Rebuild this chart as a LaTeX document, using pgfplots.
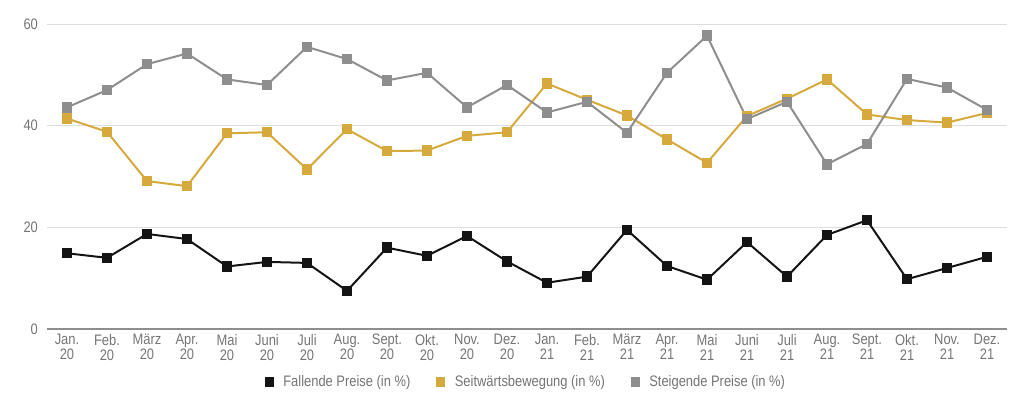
\documentclass[border=0pt]{standalone}
\usepackage{fontspec}
\setmainfont{Liberation Sans}
\newfontfamily\narrowfont{Liberation Sans}[FakeStretch=0.85]
\usepackage{pgfplots}
\pgfplotsset{compat=1.18}
\definecolor{cblack}{HTML}{141414}
\definecolor{cyellow}{HTML}{D6A93C}
\definecolor{cgray}{HTML}{8E8E8E}
\definecolor{cgrid}{HTML}{DDDDDD}
\definecolor{ctext}{HTML}{757575}
\begin{document}
\begin{tikzpicture}
\begin{axis}[
  scale only axis,
  width=480pt, height=152.5pt,
  xmin=-0.5, xmax=23.5,
  ymin=0, ymax=60,
  ytick={0,20,40,60},
  xtick={0,...,23},
  xticklabels={{Jan.\\20},{Feb.\\20},{März\\20},{Apr.\\20},{Mai\\20},{Juni\\20},{Juli\\20},{Aug.\\20},{Sept.\\20},{Okt.\\20},{Nov.\\20},{Dez.\\20},{Jan.\\21},{Feb.\\21},{März\\21},{Apr.\\21},{Mai\\21},{Juni\\21},{Juli\\21},{Aug.\\21},{Sept.\\21},{Okt.\\21},{Nov.\\21},{Dez.\\21}},
  xticklabel style={align=center, font=\narrowfont\fontsize{7.6}{7.6}\selectfont, text=ctext, yshift=1pt},
  yticklabel style={font=\narrowfont\fontsize{7.6}{8}\selectfont, text=ctext, xshift=-1pt},
  /pgf/number format/assume math mode=true,
  major tick length=0pt,
  ymajorgrids,
  grid style={cgrid, line width=0.5pt},
  axis x line*=bottom,
  axis y line*=left,
  y axis line style={draw=none},
  x axis line style={draw=cgray, line width=0.8pt},
  legend columns=3,
  legend style={draw=none, at={(0.5,-0.174)}, anchor=center, font=\narrowfont\fontsize{7.6}{8}\selectfont, text=ctext,
    /tikz/every odd column/.append style={column sep=3pt},
    /tikz/every even column/.append style={column sep=11pt}},
  legend cell align=left,
  clip=false,
]
\addplot[cblack, line width=1pt, mark=square*, mark size=2.1pt, mark options={solid}, forget plot] coordinates {
(0,14.9)(1,14.0)(2,18.7)(3,17.7)(4,12.3)(5,13.2)(6,13.0)(7,7.5)(8,16.0)(9,14.4)(10,18.3)(11,13.3)
(12,9.1)(13,10.3)(14,19.5)(15,12.4)(16,9.7)(17,17.1)(18,10.3)(19,18.5)(20,21.4)(21,9.8)(22,12.0)(23,14.2)};
\addplot[cyellow, line width=1pt, mark=square*, mark size=2.1pt, forget plot] coordinates {
(0,41.4)(1,38.8)(2,29.1)(3,28.1)(4,38.5)(5,38.7)(6,31.4)(7,39.3)(8,35.0)(9,35.1)(10,38.0)(11,38.7)
(12,48.3)(13,45.1)(14,42.0)(15,37.3)(16,32.7)(17,41.9)(18,45.3)(19,49.1)(20,42.2)(21,41.1)(22,40.6)(23,42.5)};
\addplot[cgray, line width=1pt, mark=square*, mark size=2.1pt, forget plot] coordinates {
(0,43.6)(1,47.0)(2,52.1)(3,54.2)(4,49.1)(5,48.0)(6,55.5)(7,53.1)(8,48.9)(9,50.4)(10,43.6)(11,48.0)
(12,42.6)(13,44.7)(14,38.6)(15,50.4)(16,57.7)(17,41.3)(18,44.7)(19,32.4)(20,36.4)(21,49.2)(22,47.5)(23,43.1)};
\addlegendimage{only marks, mark=square*, mark size=2.1pt, color=cblack}
\addlegendentry{Fallende Preise (in \%)}
\addlegendimage{only marks, mark=square*, mark size=2.1pt, color=cyellow}
\addlegendentry{Seitwärtsbewegung (in \%)}
\addlegendimage{only marks, mark=square*, mark size=2.1pt, color=cgray}
\addlegendentry{Steigende Preise (in \%)}
\coordinate (sw) at (rel axis cs:0,0);
\coordinate (ne) at (rel axis cs:1,1);
\end{axis}
\pgfresetboundingbox
\path ([xshift=-23.5pt,yshift=-36.5pt]sw) rectangle ([xshift=8.5pt,yshift=12pt]ne);
\end{tikzpicture}
\end{document}
